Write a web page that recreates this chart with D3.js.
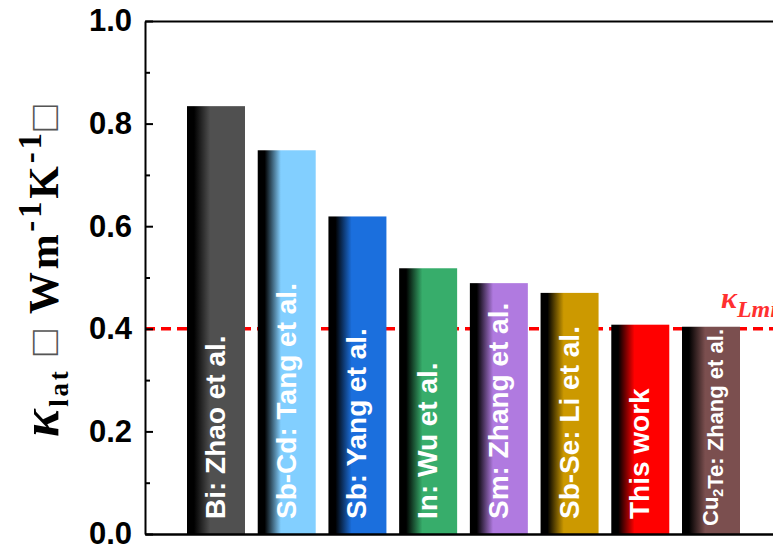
<!DOCTYPE html>
<html>
<head>
<meta charset="utf-8">
<script src="https://cdn.jsdelivr.net/npm/d3@7"></script>
<style>
  body { margin: 0; background: #fff; }
  svg { display: block; }
</style>
</head>
<body>
<svg id="chart" width="773" height="550"></svg>
<script>
// data
const labels = ['Bi: Zhao et al.', 'Sb-Cd: Tang et al.', 'Sb: Yang et al.', 'In: Wu et al.',
  'Sm: Zhang et al.', 'Sb-Se: Li et al.', 'This work', 'Cu2Te: Zhang et al.'];
const kappaLat = [0.834, 0.748, 0.619, 0.518, 0.489, 0.470, 0.408, 0.404];
const barColors = ['#505050', '#82cfff', '#1b6fdd', '#37ad6b', '#b07ae0', '#cc9900', '#ff0000', '#7b4f4f'];
const yTicks = [0.0, 0.2, 0.4, 0.6, 0.8, 1.0];
const yMinorTicks = [0.1, 0.3, 0.5, 0.7, 0.9];
const kappaLmin = 0.4;

const svg = d3.select('#chart');
const plotLeft = 145, plotTop = 21, plotBottom = 534, plotRight = 782;

const x = d3.scaleBand()
  .domain(labels)
  .range([plotLeft, plotRight])
  .paddingInner(0.18)
  .paddingOuter(0.594);

const y = d3.scaleLinear()
  .domain([0, 1])
  .range([plotBottom, plotTop]);

// gradients: black on the left side fading into the bar colour
const defs = svg.append('defs');
barColors.forEach((c, i) => {
  const g = defs.append('linearGradient')
    .attr('id', 'grad' + i)
    .attr('x1', 0).attr('x2', 1).attr('y1', 0).attr('y2', 0);
  g.append('stop').attr('offset', 0).attr('stop-color', '#000');
  g.append('stop').attr('offset', 0.12).attr('stop-color', '#000');
  g.append('stop').attr('offset', 0.4).attr('stop-color', c);
  g.append('stop').attr('offset', 1).attr('stop-color', c);
});

// kappa_Lmin dashed line (behind the bars)
svg.append('line')
  .attr('x1', plotLeft).attr('x2', plotRight)
  .attr('y1', y(kappaLmin)).attr('y2', y(kappaLmin))
  .attr('stroke', '#ff0000')
  .attr('stroke-width', 3.5)
  .attr('stroke-dasharray', '10,6');

// bars
svg.append('g').selectAll('rect')
  .data(labels)
  .join('rect')
  .attr('x', d => x(d))
  .attr('y', (d, i) => y(kappaLat[i]))
  .attr('width', x.bandwidth())
  .attr('height', (d, i) => y(0) - y(kappaLat[i]))
  .attr('fill', (d, i) => 'url(#grad' + i + ')');

// labels inside the bars, rotated
const lab = svg.append('g').selectAll('text')
  .data(labels)
  .join('text')
  .attr('transform', d => `translate(${x(d) + x.bandwidth() / 2 + 9},519) rotate(-90)`)
  .attr('fill', '#fff')
  .attr('font-family', '"Liberation Sans", Arial, sans-serif')
  .attr('font-weight', 'bold')
  .attr('font-size', 28);

lab.each(function (d) {
  const t = d3.select(this);
  d.split(/(\d)/).forEach(part => {
    if (part === '') return;
    if (/^\d$/.test(part)) {
      t.append('tspan').attr('font-size', '0.65em').attr('dy', 5).text(part);
      t.append('tspan').attr('dy', -5).text('');
    } else {
      t.append('tspan').text(part);
    }
  });
  // long label gets shrunk to fit the bar like in the original
  if (this.getComputedTextLength() > 250) {
    t.attr('font-size', 22)
      .attr('transform', `translate(${x(d) + x.bandwidth() / 2 + 7},526) rotate(-90)`);
  }
});

// axes
const yAxis = d3.axisLeft(y)
  .tickValues(yTicks)
  .tickFormat(d3.format('.1f'))
  .tickSize(-8)
  .tickSizeOuter(0)
  .tickPadding(13);

const gy = svg.append('g')
  .attr('transform', `translate(${plotLeft},0)`)
  .call(yAxis);
gy.select('.domain').attr('stroke-width', 2);
gy.selectAll('.tick line').attr('stroke-width', 2);
gy.selectAll('.tick text')
  .attr('font-family', '"Liberation Sans", Arial, sans-serif')
  .attr('font-weight', 'bold')
  .attr('font-size', 31)
  .attr('fill', '#000');

const gyMinor = svg.append('g')
  .attr('transform', `translate(${plotLeft},0)`)
  .call(d3.axisLeft(y).tickValues(yMinorTicks).tickSize(-5).tickSizeOuter(0).tickFormat(''));
gyMinor.select('.domain').remove();
gyMinor.selectAll('.tick line').attr('stroke-width', 2);

const gxBottom = svg.append('g')
  .attr('transform', `translate(0,${plotBottom})`)
  .call(d3.axisBottom(x).tickValues([]).tickSizeOuter(0));
gxBottom.select('.domain').attr('stroke-width', 2.5);

const gxTop = svg.append('g')
  .attr('transform', `translate(0,${plotTop})`)
  .call(d3.axisTop(x).tickValues([]).tickSizeOuter(0));
gxTop.select('.domain').attr('stroke-width', 2);

// kappa_Lmin label (cut by the right edge, as in the original)
const kl = svg.append('text')
  .attr('x', 721).attr('y', 308)
  .attr('fill', '#ff3030')
  .attr('font-family', '"Liberation Serif", "Times New Roman", serif')
  .attr('font-style', 'italic');
kl.append('tspan').attr('font-size', 30).attr('font-weight', 'bold').text('κ');
kl.append('tspan').attr('font-size', 24).attr('font-weight', 'bold').attr('dy', 9).text('Lmin');

// y axis title
const title = svg.append('text')
  .attr('transform', 'translate(58,271) rotate(-90)')
  .attr('text-anchor', 'middle')
  .attr('font-family', '"Liberation Serif", "Times New Roman", serif')
  .attr('font-weight', 'bold')
  .attr('fill', '#000')
  .attr('textLength', 332)
  .attr('lengthAdjust', 'spacing');
title.append('tspan').attr('font-size', 52).attr('font-style', 'italic').text('κ');
title.append('tspan').attr('font-size', 27).attr('dy', 10).text('lat');
title.append('tspan').attr('font-size', 42).attr('font-weight', 'normal').attr('fill', '#555').attr('dy', -10).text(' □ ');
title.append('tspan').attr('font-size', 42).text('Wm');
title.append('tspan').attr('font-size', 33).attr('dy', -17).text('-1');
title.append('tspan').attr('font-size', 42).attr('dy', 17).text('K');
title.append('tspan').attr('font-size', 33).attr('dy', -17).text('-1');
title.append('tspan').attr('font-size', 42).attr('font-weight', 'normal').attr('fill', '#555').attr('dy', 17).text('□');
</script>
</body>
</html>
